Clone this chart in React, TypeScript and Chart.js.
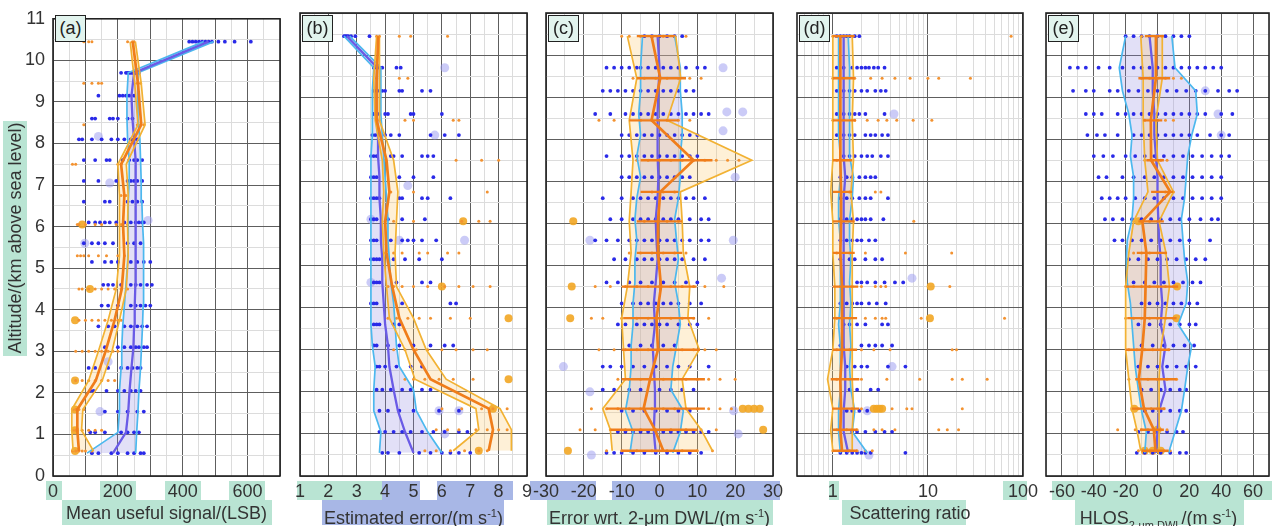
import React, { useEffect, useRef } from "react";
import { Chart, registerables } from "chart.js";
Chart.register(...registerables);

// ---------- shared altitude bins (km) ----------
const blueAlt = [0.55, 1.05, 1.55, 2.05, 2.6, 3.1, 3.6, 4.1, 4.6, 5.15, 5.6, 6.1, 6.6, 7.1, 7.6, 8.1, 8.6, 9.15, 9.7, 10.45];
const orangeAlt = [0.6, 1.1, 1.6, 2.3, 3.0, 3.75, 4.5, 5.3, 6.05, 6.75, 7.5, 8.45, 9.45, 10.45];
const yGrid = [0, 0.5, 1, 1.5, 2, 2.5, 3, 3.5, 4, 4.5, 5, 5.5, 6, 6.5, 7, 7.5, 8, 8.5, 9, 9.5, 10, 10.5, 11];
const yTickLabels = [0, 1, 2, 3, 4, 5, 6, 7, 8, 9, 10, 11];

// ---------- panel (a) mean useful signal ----------
const aGrid = [0, 50, 100, 150, 200, 250, 300, 350, 400, 450, 500, 550, 600, 650, 700];
const aTickLabels = [0, 200, 400, 600];
const aBlueLo = [105, 200, 205, 205, 210, 212, 215, 220, 225, 230, 232, 232, 232, 235, 235, 230, 228, 228, 232, 465];
const aBlueMed = [185, 225, 232, 236, 242, 248, 250, 252, 254, 255, 255, 255, 255, 255, 255, 250, 245, 242, 250, 480];
const aBlueHi = [255, 258, 262, 265, 270, 273, 276, 278, 280, 280, 278, 276, 274, 272, 270, 268, 262, 262, 262, 495];
const aOrangeLo = [62, 58, 58, 110, 140, 170, 195, 205, 205, 205, 200, 262, 252, 238];
const aOrangeMed = [80, 75, 75, 132, 162, 190, 212, 220, 216, 220, 210, 272, 262, 246];
const aOrangeHi = [125, 88, 92, 152, 182, 205, 226, 232, 230, 232, 226, 284, 272, 254];
const aBlueDots = [
  [120, 140, 180, 200, 230, 250, 270, 280],
  [115, 130, 160, 210, 230, 250, 265],
  [160, 200, 230, 260, 280],
  [115, 125, 165, 200, 220, 240, 255, 270],
  [110, 130, 170, 210, 230, 245, 260, 270],
  [160, 200, 220, 240, 255, 265, 280, 290],
  [140, 170, 190, 220, 240, 260, 275, 290],
  [150, 170, 200, 240, 255, 270, 285, 300],
  [155, 170, 185, 210, 240, 255, 270, 290, 305],
  [120, 160, 180, 200, 240, 260, 280, 300],
  [95, 120, 140, 160, 185, 230, 250, 270],
  [110, 130, 145, 160, 175, 195, 220, 240, 255, 265, 275, 280],
  [95, 160, 175, 230, 245, 260, 275],
  [95, 140, 195, 230, 240, 250, 260, 275],
  [95, 130, 165, 175, 215, 235, 250, 260, 275],
  [80, 90, 120, 150, 180, 200, 220, 240, 250, 260],
  [120, 130, 175, 185, 200, 230, 245],
  [140, 205, 215, 225, 235, 250],
  [210, 225, 230, 235, 240, 245, 250, 255, 265],
  [420, 430, 440, 450, 460, 470, 480, 490, 510, 530, 560, 610],
];
const aOrangeDots = [
  [60, 70, 80, 90, 100, 120],
  [60, 70, 90, 110, 130, 150],
  [60, 70, 80, 95],
  [70, 90, 110, 130, 150, 170, 190],
  [70, 90, 110, 130, 150, 170, 185, 200],
  [80, 100, 120, 140, 160, 180, 200, 210],
  [80, 90, 110, 130, 150, 170, 190, 210, 230],
  [75, 85, 95, 110, 140, 165, 200, 220],
  [75, 80, 100, 130, 150, 195, 210, 230],
  [210, 225],
  [60, 70, 200, 210],
  [95, 260, 270, 280],
  [95, 120, 140, 150, 250, 260, 270],
  [95, 110, 120, 230, 245, 250],
];
const aBigBlue = [[140, 8.17], [175, 7.05], [98, 5.6], [145, 1.55], [170, 2.75], [293, 6.15]];
const aBigOrange = [[68, 0.6], [68, 1.1], [68, 1.6], [68, 2.3], [68, 3.75], [114, 4.5], [90, 6.05]];

// ---------- panel (b) estimated error ----------
const bGrid = [1, 1.5, 2, 2.5, 3, 3.5, 4, 4.5, 5, 5.5, 6, 6.5, 7, 7.5, 8, 8.5, 9];
const bTickLabels = [1, 2, 3, 4, 5, 6, 7, 8, 9];
const bBlueLo = [3.8, 3.85, 3.6, 3.6, 3.65, 3.55, 3.5, 3.5, 3.5, 3.5, 3.5, 3.5, 3.5, 3.5, 3.5, 3.55, 3.55, 3.55, 3.6, 2.55];
const bBlueMed = [5.0, 4.7, 4.45, 4.3, 4.15, 4.1, 4.0, 3.95, 3.9, 3.9, 3.85, 3.85, 3.8, 3.8, 3.75, 3.75, 3.7, 3.7, 3.72, 2.65];
const bBlueHi = [6.0, 5.5, 5.1, 5.0, 4.5, 4.4, 4.35, 4.3, 4.2, 4.15, 4.1, 4.1, 4.05, 4.0, 3.95, 3.9, 3.85, 3.85, 3.85, 2.75];
const bOrangeLo = [6.4, 7.3, 7.2, 5.05, 4.7, 4.15, 4.05, 3.95, 3.9, 3.95, 3.9, 3.65, 3.6, 3.7];
const bOrangeMed = [7.65, 7.8, 7.65, 5.6, 5.0, 4.5, 4.25, 4.05, 4.0, 4.15, 4.05, 3.7, 3.7, 3.76];
const bOrangeHi = [8.45, 8.45, 8.05, 6.15, 5.45, 5.0, 4.4, 4.35, 4.4, 4.45, 4.3, 3.8, 3.8, 3.8];
const bBlueDots = [
  [3.9, 4.1, 4.5, 5.2, 5.6, 6.0, 6.3, 6.6, 7.0],
  [3.8, 4.0, 4.3, 4.6, 4.9, 5.3, 5.7, 6.1, 6.6, 6.9],
  [3.8, 4.1, 4.5, 5.0, 5.9, 6.6],
  [3.7, 3.9, 4.2, 4.6, 4.9, 5.3, 5.6],
  [3.7, 3.8, 4.0, 4.4, 4.9, 5.3],
  [3.6, 3.7, 4.1, 4.5, 5.0, 5.6, 6.1, 6.4],
  [3.6, 3.7, 3.8, 4.3, 4.5],
  [3.5, 3.6, 3.7, 4.6, 6.3, 6.5],
  [3.6, 3.7, 3.8, 4.4, 5.3, 5.6],
  [3.5, 3.6, 3.7, 3.8, 4.3, 4.7, 5.2, 6.0],
  [3.5, 3.6, 3.7, 4.2, 4.6, 4.8, 5.0, 5.3, 5.8],
  [3.5, 3.6, 3.7, 4.1, 4.6, 5.4],
  [3.5, 3.6, 3.7, 3.8, 4.5, 4.6, 5.3, 5.5, 6.3],
  [3.5, 3.6, 3.7, 4.5, 5.0, 5.7],
  [3.5, 3.6, 3.7, 4.2, 4.3, 4.6, 5.3, 5.5, 5.7],
  [3.55, 3.65, 3.75, 4.0, 4.2, 4.5, 5.6, 6.1, 6.6],
  [3.6, 3.7, 3.8, 4.0, 4.1, 4.9, 5.0, 6.0],
  [3.6, 3.7, 3.8, 3.9, 4.0, 4.5, 4.6, 5.3, 5.6],
  [3.6, 3.7, 3.8, 3.9, 4.4, 4.55],
  [2.55, 2.6, 2.65, 2.7, 2.8, 2.95, 3.45],
];
const bOrangeDots = [
  [5.4, 5.8, 6.3, 6.8, 7.3, 7.6],
  [5.8, 6.2, 6.6, 7.2, 7.6, 8.0, 8.3],
  [6.0, 6.7, 7.4, 7.8, 8.3],
  [4.7, 5.0, 5.4, 5.9, 6.4, 7.1],
  [4.3, 4.7, 5.1, 5.5, 6.0, 6.5, 7.1, 7.6],
  [4.1, 4.4, 4.8, 5.2, 5.6, 6.3, 7.0],
  [4.1, 4.3, 4.6, 5.0, 5.5, 6.1, 6.6, 7.1, 7.7],
  [4.0, 4.3, 4.6, 5.2, 5.5, 6.2, 6.6],
  [4.0, 4.3, 5.0, 6.7, 7.3, 7.7],
  [4.2, 5.0, 7.6],
  [4.0, 6.5, 7.4, 8.0],
  [3.8, 4.7, 5.0, 6.4, 6.6],
  [3.7, 4.5, 4.8],
  [3.7, 3.8, 4.5, 4.9, 6.2],
];
const bBigBlue = [[6.1, 9.7], [5.75, 8.1], [4.8, 6.9], [6.8, 5.6], [3.5, 6.1], [3.5, 4.6], [5.9, 1.55], [6.6, 1.55], [6.1, 1.0], [4.5, 5.6]];
const bBigOrange = [[7.3, 0.6], [7.8, 1.6], [8.35, 2.3], [8.35, 3.75], [6.0, 4.5], [6.75, 6.05]];

// ---------- panel (c) error wrt 2-um DWL ----------
const cGrid = [-30, -25, -20, -15, -10, -5, 0, 5, 10, 15, 20, 25, 30];
const cTickLabels = [-30, -20, -10, 0, 10, 20, 30];
const cBlueLo = [-7.8, -7, -9, -8, -7.5, -7.5, -7, -7, -6.5, -6.5, -6, -6.5, -6, -5, -6, -5, -5.5, -5, -5, -4.5];
const cBlueMed = [-1, -1.5, -1.3, -1.2, -1.5, -1.8, -1.2, -1.5, -1, -0.5, -0.8, -1, -0.5, -0.3, -0.5, -0.5, -0.5, -0.3, 0, -0.5];
const cBlueHi = [3.5, 5.5, 6.3, 3, 3.5, 4.5, 5.5, 5, 4, 5, 4.5, 4, 5, 5.5, 5.5, 6, 6, 5.5, 5.5, 4];
const cOrangeLo = [-12.5, -13, -15, -9, -9.5, -10, -8.5, -7.5, -8, -7.5, -7, -8, -6, -8.5];
const cOrangeMed = [1, -1.2, -4.2, -2.5, -0.4, -0.8, 0.4, -0.4, -0.4, 0.2, 9, -2.1, 0.2, -2.1];
const cOrangeHi = [14, 11, 7, 6, 10.5, 7.5, 8, 6.3, 6, 5.5, 24.4, 2, 5.6, 4.3];
const cErrLo = [-10, -13, -14, -10, -10, -9.6, -10, -6, -6, -5, -5, -8, -6, -6];
const cErrHi = [10, 10, 12, 12, 10.7, 9.4, 9.8, 6, 6, 5, 14, 5, 7, 4];
const cBlueDots = [
  [-14, -12, -10, -7, -4, -1, 2, 5, 8, 11],
  [-11, -9, -7, -5, -3, -1, 1, 3, 5, 7, 9, 11, 13],
  [-10, -7, -4, -1, 2, 5, 8],
  [-15, -12, -8, -5, 0, 3, 6, 9],
  [-15, -13, -10, -7, -4, -1, 2, 5, 8, 13],
  [-8, -5, -2, 1, 4],
  [-11, -9, -6, -4, -2, 0, 2, 5, 8, 10],
  [-10, -7, -5, -3, -1, 1, 3, 5, 8, 11],
  [-14, -11, -8, -5, -2, 1, 4, 7, 10],
  [-12, -9, -6, -4, -2, 0, 2, 4, 6, 9, 12],
  [-17, -14, -11, -8, -6, -4, -2, 0, 2, 4, 6, 8, 11, 13],
  [-13, -10, -7, -5, -3, -1, 1, 3, 5, 8, 11, 13],
  [-15, -10, -7, -5, -3, -1, 1, 3, 5, 7, 9, 12],
  [-10, -8, -6, -4, -2, 0, 2, 4, 6, 8],
  [-14, -10, -8, -6, -4, -2, 0, 2, 4, 6, 8, 10],
  [-10, -8, -6, -4, -2, 0, 2, 4, 6, 8, 10],
  [-17, -13, -9, -7, -5, -3, -1, 1, 3, 5, 7, 9, 11, 13],
  [-15, -13, -11, -9, -7, -5, -3, -1, 1, 3, 5, 7, 9],
  [-14, -12, -10, -8, -6, -5, -3, -1, 1, 3, 5, 7, 10, 12],
  [-4, -2, 0, 2, 4, 6],
];
const cOrangeDots = [
  [-14, -10, -6, -2, 2, 6, 10, 14],
  [-21, -17, -13, -9, -5, -1, 3, 7, 11, 15],
  [-18, -14, -11, -8, -5, -2, 1, 4, 7, 10, 13, 16, 19],
  [-11, -8, -5, -2, 1, 4, 7, 10, 13, 16, 20],
  [-16, -12, -9, -6, -3, 0, 3, 6, 9, 12, 15],
  [-18, -15, -10, -6, -3, 0, 3, 6, 9, 13],
  [-17, -13, -9, -6, -3, 0, 3, 6, 9, 12, 17],
  [-8, -5, -2, 1, 4, 7],
  [-4, -1, 2, 5],
  [-2, 1, 4],
  [-6, -3, 0, 3, 6, 9, 12, 15, 18, 21],
  [-16, -12, -5, -2, 2, 5, 8],
  [-7, -4, -1, 2, 5, 8, 11],
  [-10, -8, -5, -2, 1, 4, 7],
];
const cBigBlue = [[16.8, 9.7], [17.8, 8.65], [22, 8.65], [16.8, 8.2], [20, 7.1], [-18.4, 5.6], [19.5, 5.6], [16.4, 4.7], [-25.4, 2.6], [-18.4, 2.0], [19.6, 1.55], [20.8, 1.0], [-18, 0.5]];
const cBigOrange = [[-24.2, 0.6], [22, 1.6], [23.5, 1.6], [25, 1.6], [26.5, 1.6], [27.4, 1.1], [-23.6, 3.75], [-23.2, 4.5], [-22.8, 6.05]];

// ---------- panel (d) scattering ratio (log) ----------
const dGrid = [0.5, 0.6, 0.7, 0.8, 0.9, 1, 2, 3, 4, 5, 6, 7, 8, 9, 10, 20, 30, 40, 50, 60, 70, 80, 90, 100];
const dTickLabels = [1, 10, 100];
const dBlueLo = [1.2, 1.15, 1.15, 1.2, 1.2, 1.2, 1.15, 1.2, 1.2, 1.2, 1.2, 1.15, 1.15, 1.2, 1.2, 1.15, 1.15, 1.15, 1.15, 1.15];
const dBlueMed = [1.45, 1.3, 1.3, 1.35, 1.35, 1.3, 1.3, 1.3, 1.3, 1.3, 1.3, 1.3, 1.3, 1.35, 1.3, 1.3, 1.3, 1.3, 1.3, 1.3];
const dBlueHi = [2.3, 1.6, 1.7, 1.55, 1.5, 1.55, 1.5, 1.55, 1.5, 1.55, 1.5, 1.5, 1.6, 1.65, 1.5, 1.5, 1.5, 1.5, 1.5, 1.45];
const dOrangeLo = [1.0, 0.95, 1.0, 0.88, 1.0, 1.05, 1.05, 1.0, 1.0, 0.95, 1.0, 1.0, 1.0, 1.0];
const dOrangeMed = [1.25, 1.2, 1.22, 1.2, 1.25, 1.25, 1.25, 1.2, 1.22, 1.22, 1.2, 1.2, 1.2, 1.2];
const dOrangeHi = [1.6, 1.6, 1.65, 1.6, 1.6, 1.6, 1.6, 1.6, 1.65, 1.55, 1.65, 1.6, 1.65, 1.6];
const dErrLo = [1.0, 1.0, 0.98, 0.95, 1.0, 1.0, 1.0, 1.0, 1.0, 1.0, 1.0, 1.0, 1.0, 1.0];
const dErrHi = [1.8, 1.8, 1.9, 1.9, 1.8, 1.8, 1.85, 1.7, 1.7, 1.6, 1.6, 1.75, 1.7, 1.7];
const dBlueDots = [
  [1.2, 1.4, 1.6, 1.8, 2.0, 2.2, 2.5, 5.8],
  [1.6, 1.8, 2.2, 2.8, 3.5, 4.2],
  [1.4, 1.6, 1.9, 2.3],
  [1.5, 1.8, 2.5, 3.0],
  [1.4, 1.7, 2.0, 2.3, 3.8, 5.8],
  [1.2, 2.0, 2.4, 2.8, 3.3, 4.2],
  [1.3, 1.5, 1.8, 2.2, 3.3, 3.8],
  [1.2, 1.4, 1.6, 1.8, 2.0, 2.4, 2.9, 3.6],
  [1.8, 2.0, 2.3, 2.8, 3.5, 4.5, 5.5],
  [1.2, 1.5, 1.7, 2.2, 2.8, 3.3],
  [1.2, 1.4, 1.6, 1.8, 2.0, 2.4, 2.8],
  [1.2, 1.4, 1.6, 1.8, 2.0, 2.2, 2.5, 3.4],
  [1.2, 1.4, 1.6, 1.9, 2.2, 2.5, 3.8],
  [1.2, 1.4, 1.6, 1.9, 2.2, 2.5, 2.8],
  [1.3, 1.5, 1.7, 2.0, 2.3, 2.6, 3.2, 3.8],
  [1.1, 1.3, 1.5, 1.7, 2.2, 2.5, 2.8, 3.3, 3.8],
  [1.1, 1.3, 1.5, 1.7, 1.9, 2.2, 3.5],
  [1.1, 1.3, 1.5, 1.7, 2.0, 2.3, 2.8, 3.2, 3.6],
  [1.1, 1.3, 1.6, 1.8, 2.0, 2.2, 2.4, 2.7, 3.0, 3.5],
  [1.1, 1.2, 1.3, 1.4, 1.5, 1.7, 1.9],
];
const dOrangeDots = [
  [1.0, 1.2, 1.5, 1.8, 2.2, 2.6],
  [1.1, 1.4, 1.8, 2.7, 3.3, 4.5, 13, 16, 21],
  [1.2, 1.6, 2.0, 4.2, 6.0, 6.8, 23],
  [1.1, 1.5, 2.0, 3.7, 8.2, 18, 23, 42],
  [1.1, 1.5, 2.0, 2.7, 4.0, 18, 20],
  [1.1, 1.5, 2.2, 2.8, 3.3, 3.6, 8.5, 64],
  [1.2, 1.6, 2.0, 2.8, 3.2, 3.6, 17],
  [1.1, 1.5, 2.2, 5.8, 17.8],
  [1.2, 1.5, 7.1],
  [1.5, 2.8, 3.2],
  [1.1, 1.3],
  [1.0, 1.3, 1.7, 2.3, 3.0, 3.7, 4.7, 7.0, 11],
  [1.0, 1.3, 1.7, 2.5, 3.3, 4.5, 6.5, 10, 13, 28],
  [1.0, 1.1, 1.3, 75],
];
const dBigBlue = [[6.8, 4.7], [4.2, 2.6], [2.3, 1.55], [4.4, 8.6], [2.4, 0.5]];
const dBigOrange = [[10.7, 4.5], [10.5, 3.75], [2.7, 1.6], [2.9, 1.6], [3.1, 1.6], [3.3, 1.6]];

// ---------- panel (e) HLOS 2-um DWL ----------
const eGrid = [-70, -60, -50, -40, -30, -20, -10, 0, 10, 20, 30, 40, 50, 60, 70];
const eTickLabels = [-60, -40, -20, 0, 20, 40, 60];
const eBlueLo = [-8, -7, -10, -12, -14, -15, -16, -17, -19, -19.5, -19, -16, -15, -15, -17, -16, -18, -22, -24, -20];
const eBlueMed = [-1, 0, 1, 5, 3, 5, 2, 3, 2, 2, 1, 0.5, 0, 0, -1, -2, -2, -3, -3, -5];
const eBlueHi = [7, 11, 15, 17, 19, 21.5, 13, 18, 19, 17, 16, 15, 17, 18, 19, 21.5, 25, 24, 11, 9];
const eOrangeLo = [-10.5, -13, -16, -18, -20, -20, -20, -18, -15, -6, -8, -9, -9, -10.5];
const eOrangeMed = [-1.3, -2.3, -8.5, -11.7, -9.6, -8, -7.5, -7, -9.5, 8, -4, -4.2, -1, -1];
const eOrangeHi = [1, 1, 1, 1, 2, 5, 7.5, 5.3, 1, 10, 0, -1, 3, 3];
const eErrLo = [-10, -11, -16, -14, -20, -19, -20, -13, -12, -4, -7, -9, -12, -8];
const eErrHi = [7, 4, 5, 12, 8, 12, 13, 6, 4, 10, 4, 3, 8, 4];
const eBlueDots = [
  [-13, -8, -3, 2, 8, 14, 18],
  [-12, -6, 0, 6, 12, 16],
  [-8, -3, 2, 8, 14, 18],
  [-10, -4, 2, 8, 14, 18],
  [-12, -6, 0, 6, 12, 18, 24],
  [-10, -3, 4, 10, 17, 23],
  [-12, -5, 2, 8, 14, 20, 24],
  [-10, -5, 0, 5, 10, 15, 20, 25],
  [-15, -8, -2, 4, 10, 16, 22, 27],
  [-18, -12, -6, 0, 6, 12, 18, 24, 30],
  [-27, -22, -16, -10, -4, 2, 8, 14, 20, 33],
  [-33, -28, -22, -16, -10, -4, 2, 8, 14, 20, 27, 34, 38],
  [-35, -30, -25, -20, -14, -8, -2, 4, 10, 16, 22, 28, 34, 40],
  [-37, -32, -22, -15, -8, -2, 4, 10, 16, 22, 28, 34, 40],
  [-40, -34, -28, -20, -14, -8, -2, 4, 10, 16, 22, 28, 34, 40, 45],
  [-44, -38, -33, -25, -15, -10, -5, 0, 5, 10, 15, 20, 25, 33, 40, 45],
  [-45, -40, -35, -25, -20, -15, -10, -5, 0, 5, 10, 15, 20, 25, 30, 40, 47],
  [-53, -45, -40, -30, -25, -18, -12, -6, 0, 6, 12, 18, 24, 30, 38, 45, 50],
  [-55, -50, -45, -37, -30, -22, -15, -10, -5, 0, 5, 10, 15, 20, 25, 30, 35, 40],
  [-20, -15, -10, -5, 0, 5, 10, 15, 20],
];
const eOrangeDots = [
  [-12, -8, -4, 0, 4, 8],
  [-25, -14, -10, -6, -2, 2, 6],
  [-16, -12, -8, -4, 0, 4],
  [-18, -12, -6, 0, 6, 12],
  [-18, -13, -8, -3, 2, 7],
  [-20, -15, -10, -5, 0, 5, 10],
  [-20, -15, -10, -5, 0, 5, 10],
  [-15, -10, -5, 0, 5],
  [-15, -10, -5, 0],
  [0, 5, 10],
  [-8, -3, 2, 6],
  [-8, -4, 0, 5, 10],
  [-10, -5, 0, 5, 10, 15],
  [-10, -5, 0, 3],
];
const eBigBlue = [[38, 8.6], [40, 8.1], [30, 9.15]];
const eBigOrange = [[12.3, 4.5], [12, 3.75], [-14.6, 1.6], [0, 1.1], [-8, 0.6], [-3, 0.6], [2, 0.6], [-12, 6.05]];

// ---------- styles ----------
const FONT = '"Liberation Sans", Arial, sans-serif';
const CYAN = "#4cb8ee";
const PURPLE = "#6a5be6";
const ORANGE = "#f07d1a";
const YEL = "#f2b233";
const BLUE_FILL = "rgba(140,130,225,0.25)";
const OR_FILL = "rgba(250,200,110,0.28)";
const DOT_BLUE = "#2a2ae8";
const DOT_OR = "#f39230";
const BIG_BLUE = "rgba(160,160,240,0.55)";
const BIG_OR = "rgba(242,166,35,0.9)";
const GRID_DARK = "#5e5e5e";
const GRID_LIGHT = "#dcdcdc";
const TEAL = "#b9e4d3";
const LBLUE = "#a8b7e6";

type Panel = {
  id: string; xType: "linear" | "logarithmic"; xMin: number; xMax: number;
  grid: number[]; labels: number[]; major: (v: number) => boolean;
  blueLo: number[]; blueMed: number[]; blueHi: number[];
  orangeLo: number[]; orangeMed: number[]; orangeHi: number[];
  blueDots: number[][]; orangeDots: number[][];
  bigBlue: number[][]; bigOrange: number[][];
  errLo?: number[]; errHi?: number[];
  areaL: number; areaR: number; title: React.ReactNode; titleHL: [number, number, string];
};

const panels: Panel[] = [
  { id: "a", xType: "linear", xMin: 0, xMax: 700, grid: aGrid, labels: aTickLabels, major: (v) => v % 100 === 0,
    blueLo: aBlueLo, blueMed: aBlueMed, blueHi: aBlueHi, orangeLo: aOrangeLo, orangeMed: aOrangeMed, orangeHi: aOrangeHi,
    blueDots: aBlueDots, orangeDots: aOrangeDots, bigBlue: aBigBlue, bigOrange: aBigOrange,
    areaL: 53, areaR: 280, title: "Mean useful signal/(LSB)", titleHL: [62, 272, TEAL] },
  { id: "b", xType: "linear", xMin: 1, xMax: 9, grid: bGrid, labels: bTickLabels, major: (v) => Number.isInteger(v),
    blueLo: bBlueLo, blueMed: bBlueMed, blueHi: bBlueHi, orangeLo: bOrangeLo, orangeMed: bOrangeMed, orangeHi: bOrangeHi,
    blueDots: bBlueDots, orangeDots: bOrangeDots, bigBlue: bBigBlue, bigOrange: bBigOrange,
    areaL: 300, areaR: 527, title: <>Estimated error/(m s<sup style={{ fontSize: 11 }}>-1</sup>)</>, titleHL: [322, 504, LBLUE] },
  { id: "c", xType: "linear", xMin: -30, xMax: 30, grid: cGrid, labels: cTickLabels, major: (v) => v % 10 === 0,
    blueLo: cBlueLo, blueMed: cBlueMed, blueHi: cBlueHi, orangeLo: cOrangeLo, orangeMed: cOrangeMed, orangeHi: cOrangeHi,
    blueDots: cBlueDots, orangeDots: cOrangeDots, bigBlue: cBigBlue, bigOrange: cBigOrange, errLo: cErrLo, errHi: cErrHi,
    areaL: 546, areaR: 773, title: <>Error wrt. 2-μm DWL/(m s<sup style={{ fontSize: 11 }}>-1</sup>)</>, titleHL: [547, 773, TEAL] },
  { id: "d", xType: "logarithmic", xMin: 0.42, xMax: 100, grid: dGrid, labels: dTickLabels, major: (v) => v === 1 || v === 10 || v === 100,
    blueLo: dBlueLo, blueMed: dBlueMed, blueHi: dBlueHi, orangeLo: dOrangeLo, orangeMed: dOrangeMed, orangeHi: dOrangeHi,
    blueDots: dBlueDots, orangeDots: dOrangeDots, bigBlue: dBigBlue, bigOrange: dBigOrange, errLo: dErrLo, errHi: dErrHi,
    areaL: 797, areaR: 1023, title: "Scattering ratio", titleHL: [842, 966, TEAL] },
  { id: "e", xType: "linear", xMin: -70, xMax: 70, grid: eGrid, labels: eTickLabels, major: (v) => v % 20 === 0,
    blueLo: eBlueLo, blueMed: eBlueMed, blueHi: eBlueHi, orangeLo: eOrangeLo, orangeMed: eOrangeMed, orangeHi: eOrangeHi,
    blueDots: eBlueDots, orangeDots: eOrangeDots, bigBlue: eBigBlue, bigOrange: eBigOrange, errLo: eErrLo, errHi: eErrHi,
    areaL: 1046, areaR: 1271, title: <>HLOS<sub style={{ fontSize: 11 }}>2-um DWL</sub>/(m s<sup style={{ fontSize: 11 }}>-1</sup>)</>, titleHL: [1075, 1244, TEAL] },
];

// tick-label highlight strips [x0, x1, color]
const tickHL: [number, number, string][] = [
  [46, 62, TEAL], [100, 136, TEAL], [165, 201, TEAL], [229, 265, TEAL],
  [297, 382, TEAL], [382, 420, LBLUE], [437, 513, LBLUE], [530, 596, LBLUE],
  [612, 780, LBLUE], [829, 839, TEAL], [1003, 1027, TEAL], [1052, 1272, TEAL],
];

const pts = (xs: number[], ys: number[]) => xs.map((x, i) => ({ x, y: ys[i] }));
const dots = (rows: number[][], ys: number[]) => rows.flatMap((r, i) => r.map((x) => ({ x, y: ys[i] })));
const pairs = (ps: number[][]) => ps.map(([x, y]) => ({ x, y }));

const framePlugin = {
  id: "frame",
  afterDraw(chart: any) {
    const { ctx, chartArea: a } = chart;
    ctx.save();
    ctx.strokeStyle = "#222";
    ctx.lineWidth = 1.6;
    ctx.strokeRect(a.left, a.top, a.right - a.left, a.bottom - a.top);
    ctx.restore();
  },
};

function PanelChart({ p }: { p: Panel }) {
  const ref = useRef<HTMLCanvasElement>(null);
  const isA = p.id === "a";
  const padL = isA ? 0 : 20;
  const padR = p.id === "e" ? 3 : 20;
  const yW = isA ? 53 : 0;
  const left = p.areaL - padL - yW;
  const width = p.areaR - p.areaL + padL + padR + yW;

  useEffect(() => {
    const line = (data: any[], color: string, w: number, order: number, extra: any = {}) => ({
      data, borderColor: color, borderWidth: w, pointRadius: 0, fill: false, order, ...extra,
    });
    const scatter = (data: any[], color: string, r: number, order: number) => ({
      data, showLine: false, pointRadius: r, pointBackgroundColor: color, pointBorderWidth: 0, fill: false, order,
    });
    const datasets: any[] = [
      line(pts(p.blueHi, blueAlt), CYAN, 1.7, 5),
      line(pts(p.blueLo, blueAlt), CYAN, 1.7, 5, { fill: "-1", backgroundColor: BLUE_FILL }),
      line(pts(p.orangeHi, orangeAlt), YEL, 1.7, 3),
      line(pts(p.orangeLo, orangeAlt), YEL, 1.7, 3, { fill: "-1", backgroundColor: OR_FILL }),
      line(pts(p.blueMed, blueAlt), PURPLE, 2.3, 4),
      line(pts(p.orangeMed, orangeAlt), ORANGE, 2.7, 2),
      scatter(dots(p.blueDots, blueAlt), DOT_BLUE, 1.9, 7),
      scatter(dots(p.orangeDots, orangeAlt), DOT_OR, 1.5, 6),
      scatter(pairs(p.bigBlue), BIG_BLUE, 4.5, 9),
      scatter(pairs(p.bigOrange), BIG_OR, 4, 8),
    ];
    if (p.errLo && p.errHi) {
      const bars = orangeAlt.flatMap((y, i) => [
        { x: p.errLo![i], y }, { x: p.errHi![i], y }, { x: p.errHi![i], y: null },
      ]);
      datasets.push(line(bars, ORANGE, 2.4, 1, { spanGaps: false }));
    }
    const chart = new Chart(ref.current!, {
      type: "line",
      data: { datasets },
      plugins: [framePlugin],
      options: {
        responsive: false,
        animation: false,
        devicePixelRatio: 1,
        indexAxis: "y",
        events: [],
        layout: { padding: { left: padL, right: padR, top: 13, bottom: 0 } },
        plugins: { legend: { display: false }, tooltip: { enabled: false }, filler: { drawTime: "beforeDatasetsDraw" } },
        scales: {
          x: {
            type: p.xType, min: p.xMin, max: p.xMax,
            afterBuildTicks: (s: any) => { s.ticks = p.grid.map((v) => ({ value: v })); },
            afterFit: (s: any) => { s.height = 50; },
            ticks: {
              autoSkip: false, maxRotation: 0, minRotation: 0, padding: 5, color: "#333",
              font: { family: FONT, size: 18 },
              callback: (v: any) => (p.labels.includes(Number(v)) ? String(v) : ""),
            },
            grid: { drawTicks: false, lineWidth: 1, color: (c: any) => (p.major(c.tick.value) ? GRID_DARK : GRID_LIGHT) },
            border: { display: false },
          },
          y: {
            type: "linear", min: 0, max: 11,
            afterBuildTicks: (s: any) => { s.ticks = yGrid.map((v) => ({ value: v })); },
            afterFit: (s: any) => { s.width = yW; },
            ticks: {
              display: isA, autoSkip: false, padding: 8, color: "#333",
              font: { family: FONT, size: 18 },
              callback: (v: any) => (yTickLabels.includes(Number(v)) ? String(v) : ""),
            },
            grid: { drawTicks: false, lineWidth: 1, color: (c: any) => (Number.isInteger(c.tick.value) ? GRID_DARK : GRID_LIGHT) },
            border: { display: false },
          },
        },
      } as any,
    });
    return () => chart.destroy();
  }, []);

  return (
    <canvas ref={ref} width={width} height={526}
      style={{ position: "absolute", left, top: 0, width, height: 526 }} />
  );
}

export default function App() {
  return (
    <div style={{ position: "absolute", left: 0, top: 0, width: 1274, height: 526, overflow: "hidden", background: "#fff", fontFamily: FONT, color: "#333" }}>
      {tickHL.map(([x0, x1, c], i) => (
        <div key={"t" + i} style={{ position: "absolute", left: x0, top: 481, width: x1 - x0, height: 19, background: c }} />
      ))}
      {panels.map((p) => (
        <div key={"h" + p.id} style={{ position: "absolute", left: p.titleHL[0], top: 500, width: p.titleHL[1] - p.titleHL[0], height: 25, background: p.titleHL[2] }} />
      ))}
      <div style={{ position: "absolute", left: 3, top: 121, width: 24, height: 235, background: TEAL }} />
      {panels.map((p) => <PanelChart key={p.id} p={p} />)}
      {panels.map((p) => (
        <div key={"ti" + p.id} style={{ position: "absolute", left: (p.areaL + p.areaR) / 2 - 150, width: 300, top: 501, lineHeight: "24px", fontSize: 18, textAlign: "center", whiteSpace: "nowrap" }}>
          {p.title}
        </div>
      ))}
      <div style={{ position: "absolute", left: 15 - 130, top: 238 - 12, width: 260, height: 24, lineHeight: "24px", fontSize: 18, textAlign: "center", transform: "rotate(-90deg)", whiteSpace: "nowrap" }}>
        Altitude/(km above sea level)
      </div>
      {panels.map((p) => (
        <div key={"l" + p.id} style={{ position: "absolute", left: p.areaL + 2, top: 15, width: 29, height: 25, border: "1.5px solid #222", background: "#e2f4ee", fontSize: 18, lineHeight: "25px", textAlign: "center", color: "#222" }}>
          ({p.id})
        </div>
      ))}
    </div>
  );
}
